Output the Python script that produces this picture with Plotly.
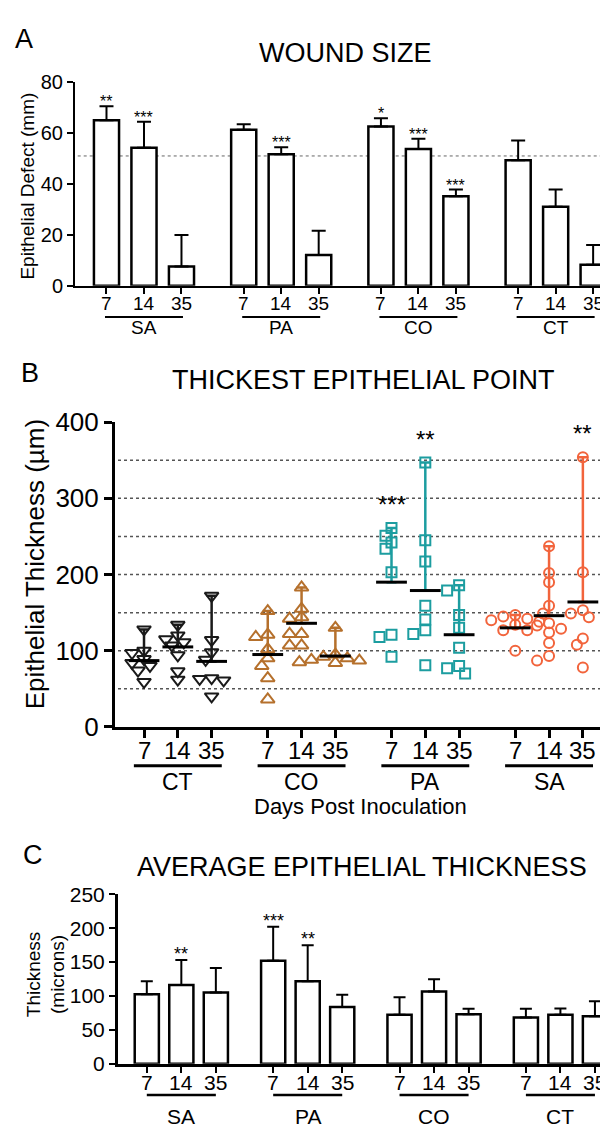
import plotly.graph_objects as go
import numpy as np

W, H = 608, 1136
FONT = "Liberation Sans, Arial, Helvetica, sans-serif"

# ---------------- data ----------------
days = ["7", "14", "35"]
groups_AC = ["SA", "PA", "CO", "CT"]
groups_B = ["CT", "CO", "PA", "SA"]

# Panel A: wound size (mean and upper error)
wound_mean = [65.0, 54.2, 7.6, 61.3, 51.7, 12.1, 62.6, 53.7, 35.2, 49.3, 31.1, 8.3]
wound_err_top = [70.5, 64.4, 20.0, 63.5, 54.4, 21.6, 65.8, 57.8, 37.8, 57.1, 37.8, 16.0]
wound_stars = ["**", "***", "", "", "***", "", "*", "***", "***", "", "", ""]
wound_ref = 51

# Panel C: average epithelial thickness
avg_mean = [102.7, 116.2, 105.2, 152.0, 121.9, 83.6, 72.2, 106.6, 73.1, 68.3, 72.2, 70.3]
avg_err_top = [121.9, 153.0, 141.5, 202.2, 175.0, 101.8, 98.0, 124.8, 81.2, 81.2, 81.7, 92.2]
avg_stars = ["", "**", "", "***", "**", "", "", "", "", "", "", ""]

# Panel B: thickest epithelial point (individual values)
ct_7 = [128, 100, 97, 89, 84, 80, 74, 59]
ct_14 = [134, 120, 115, 111, 107, 94, 73, 62]
ct_35 = [172, 114, 98, 88, 64, 63, 61, 40]
co_7 = [152, 121, 118, 102, 90, 80, 64, 36]
co_14 = [183, 155, 144, 142, 122, 122, 107, 107]
co_35 = [130, 95, 92, 90, 88, 87, 85, 84]
pa_7 = [261, 251, 242, 234, 203, 121, 118, 92]
pa_14 = [347, 245, 217, 159, 141, 127, 122, 81]
pa_35 = [186, 179, 147, 130, 104, 80, 77, 70]
sa_7 = [147, 145, 142, 140, 138, 134, 127, 127, 100]
sa_14 = [237, 202, 190, 159, 149, 136, 133, 129, 124, 110, 93, 87]
sa_35 = [354, 203, 153, 149, 144, 116, 108, 78]
ct_means = [87, 105, 86]
co_means = [95, 136, 93]
pa_means = [190, 179, 121]
sa_means = [130, 146, 164]
b_stars = {"PA": ["***", "**", ""], "SA": ["", "", "**"]}

b_points = {"CT": [ct_7, ct_14, ct_35], "CO": [co_7, co_14, co_35],
            "PA": [pa_7, pa_14, pa_35], "SA": [sa_7, sa_14, sa_35]}
b_means = {"CT": ct_means, "CO": co_means, "PA": pa_means, "SA": sa_means}
b_colors = {"CT": "#1a1a1a", "CO": "#B5702C", "PA": "#1C9DA0", "SA": "#F2643C"}
b_symbols = {"CT": "triangle-down-open", "CO": "triangle-up-open",
             "PA": "square-open", "SA": "circle-open"}

GROUP_STEP = 3.66
def positions(ngroups=4):
    return [g * GROUP_STEP + d for g in range(ngroups) for d in range(3)]

pos = positions()

def px(x):
    return x / W

def py(y):
    return 1 - y / H

fig = go.Figure()

# ---------------- axes layout ----------------
axA_x = dict(domain=[px(67), 1.0], range=[-0.84, 13.59])
axA_y = dict(domain=[py(270), py(60.7)], range=[0, 80])
axB_x = dict(domain=[px(107), 1.0], range=[-0.858, 13.96])
axB_y = dict(domain=[py(723), py(410)], range=[0, 400])
axC_x = dict(domain=[px(109.7), 1.0], range=[-0.843, 13.59])
axC_y = dict(domain=[py(1069), py(895)], range=[0, 250])

common_x = dict(showgrid=False, zeroline=False, showline=True, linecolor="black",
                ticks="outside", tickcolor="black", tickmode="array",
                tickvals=pos, showticklabels=False)
common_y = dict(showgrid=False, zeroline=False, showline=True, linecolor="black",
                ticks="outside", tickcolor="black")

fig.update_layout(
    xaxis=dict(**axA_x, **common_x, anchor="y", linewidth=2, tickwidth=2, ticklen=6),
    yaxis=dict(**axA_y, **common_y, anchor="x", linewidth=2, tickwidth=2, ticklen=6,
               tickvals=[0, 20, 40, 60, 80],
               tickfont=dict(family=FONT, size=20, color="black")),
    xaxis2=dict(**axB_x, **common_x, anchor="y2", linewidth=3, tickwidth=3, ticklen=8),
    yaxis2=dict(**axB_y, **common_y, anchor="x2", linewidth=3, tickwidth=3, ticklen=8,
                tickvals=[0, 100, 200, 300, 400],
                tickfont=dict(family=FONT, size=26, color="black")),
    xaxis3=dict(**axC_x, **common_x, anchor="y3", linewidth=2.5, tickwidth=2, ticklen=6),
    yaxis3=dict(**axC_y, **common_y, anchor="x3", linewidth=2.5, tickwidth=2, ticklen=6,
                tickvals=[0, 50, 100, 150, 200, 250],
                tickfont=dict(family=FONT, size=21, color="black")),
)

# ---------------- panel A bars ----------------
fig.add_trace(go.Bar(
    x=pos, y=wound_mean, width=0.67, xaxis="x", yaxis="y",
    marker=dict(color="white", line=dict(color="black", width=2.5)),
    error_y=dict(type="data", symmetric=False,
                 array=[t - m for t, m in zip(wound_err_top, wound_mean)],
                 arrayminus=[0] * len(wound_mean), color="black", thickness=2, width=7),
    showlegend=False))

# ---------------- panel C bars ----------------
fig.add_trace(go.Bar(
    x=pos, y=avg_mean, width=0.7, xaxis="x3", yaxis="y3",
    marker=dict(color="white", line=dict(color="black", width=2.5)),
    error_y=dict(type="data", symmetric=False,
                 array=[t - m for t, m in zip(avg_err_top, avg_mean)],
                 arrayminus=[0] * len(avg_mean), color="black", thickness=2, width=6),
    showlegend=False))

# ---------------- panel B scatter ----------------
XPX = 33.8        # px per x unit in panel B
YPX = 313 / 400   # px per y unit in panel B

def swarm(vals, step=6.0, mind=8.5):
    order = sorted(range(len(vals)), key=lambda i: -vals[i])
    placed = []
    offs = [0.0] * len(vals)
    cands = [0]
    for k in range(1, 8):
        cands += [-k * step, k * step]
    for i in order:
        yv = vals[i] * YPX
        for c in cands:
            if all((c - ox) ** 2 + (yv - oy) ** 2 >= mind ** 2 for ox, oy in placed):
                offs[i] = c / XPX
                placed.append((c, yv))
                break
    return offs

for gi, g in enumerate(groups_B):
    col = b_colors[g]
    for di in range(3):
        x0 = gi * GROUP_STEP + di
        vals = b_points[g][di]
        m = b_means[g][di]
        fig.add_trace(go.Scatter(
            x=[x0], y=[m], xaxis="x2", yaxis="y2", mode="markers",
            marker=dict(size=1, color="rgba(0,0,0,0)"),
            error_y=dict(type="data", symmetric=False, array=[max(vals) - m],
                         arrayminus=[0], color=col, thickness=2.5, width=5),
            showlegend=False, hoverinfo="skip"))
        offs = swarm(vals)
        fig.add_trace(go.Scatter(
            x=[x0 + o for o in offs], y=vals, xaxis="x2", yaxis="y2", mode="markers",
            marker=dict(symbol=b_symbols[g], size=12 if "triangle" in b_symbols[g] else 10,
                        color=col, line=dict(color=col, width=2)),
            showlegend=False))
        fig.add_trace(go.Scatter(
            x=[x0], y=[m], xaxis="x2", yaxis="y2", mode="markers",
            marker=dict(symbol="line-ew", size=22, line=dict(color="black", width=3)),
            showlegend=False, hoverinfo="skip"))

# ---------------- shapes & annotations ----------------
shapes = []
shapes.append(dict(type="line", xref="x domain", yref="y", x0=0.005, x1=1, y0=wound_ref, y1=wound_ref,
                   line=dict(color="#666666", width=1, dash="dot"), layer="below"))
for v in range(50, 400, 50):
    shapes.append(dict(type="line", xref="x2 domain", yref="y2", x0=0.006, x1=1, y0=v, y1=v,
                       line=dict(color="#555555", width=1.5, dash="dot"), layer="below"))

annotations = []

def add_groups(groups, xref, y_tick, tick_size, y_line, y_label, ext, lw, fsize):
    for gi, g in enumerate(groups):
        a = gi * GROUP_STEP
        for di, d in enumerate(days):
            annotations.append(dict(x=a + di, y=py(y_tick), xref=xref, yref="paper", text=d,
                                    showarrow=False, xanchor="center", yanchor="middle",
                                    font=dict(family=FONT, size=tick_size, color="black")))
        shapes.append(dict(type="line", xref=xref, yref="paper", x0=a - ext, x1=a + 2 + ext,
                           y0=py(y_line), y1=py(y_line), line=dict(color="black", width=lw)))
        annotations.append(dict(x=a + 1, y=py(y_label), xref=xref, yref="paper", text=g,
                                showarrow=False, xanchor="center", yanchor="middle",
                                font=dict(family=FONT, size=fsize, color="black")))

add_groups(groups_AC, "x", 288, 19, 302, 313, 0.04, 2, 19)
add_groups(groups_B, "x2", 747, 24, 763, 780, 0.3, 3, 23)
add_groups(groups_AC, "x3", 1088, 21, 1101, 1123, 0.0, 2.5, 21)

for i, s in enumerate(wound_stars):
    if s:
        annotations.append(dict(x=pos[i], y=wound_err_top[i], xref="x", yref="y", text=s,
                                showarrow=False, yanchor="bottom", yshift=-6,
                                font=dict(family=FONT, size=16, color="black")))
for i, s in enumerate(avg_stars):
    if s:
        annotations.append(dict(x=pos[i], y=avg_err_top[i], xref="x3", yref="y3", text=s,
                                showarrow=False, yanchor="bottom", yshift=-6,
                                font=dict(family=FONT, size=18, color="black")))
for gi, g in enumerate(groups_B):
    for di, s in enumerate(b_stars.get(g, ["", "", ""])):
        if s:
            annotations.append(dict(x=gi * GROUP_STEP + di, y=max(b_points[g][di]), xref="x2", yref="y2",
                                    text=s, showarrow=False, yanchor="bottom", yshift=8,
                                    font=dict(family=FONT, size=24, color="black")))

def text(t, x, y, size, angle=0):
    annotations.append(dict(x=px(x), y=py(y), xref="paper", yref="paper", text=t, showarrow=False,
                            xanchor="center", yanchor="middle", textangle=angle,
                            font=dict(family=FONT, size=size, color="black")))

text("A", 16, 16, 27)
text("WOUND SIZE", 337, 31, 27)
text("Epithelial Defect (mm)", 20, 168, 19, angle=-90)
text("B", 22, 360, 27)
text("THICKEST EPITHELIAL POINT", 355, 367, 27)
text("Epithelial Thickness (µm)", 27, 556, 26, angle=-90)
text("Days Post Inoculation", 352, 805, 22)
text("C", 25, 855, 27)
text("AVERAGE EPITHELIAL THICKNESS", 354, 867, 27)
text("Thickness<br>(microns)", 38, 977, 19, angle=-90)

fig.update_layout(
    width=W, height=H, margin=dict(l=0, r=0, t=0, b=0),
    paper_bgcolor="white", plot_bgcolor="white",
    shapes=shapes, annotations=annotations, showlegend=False,
    barmode="overlay",
)

fig.write_html("out.html")
